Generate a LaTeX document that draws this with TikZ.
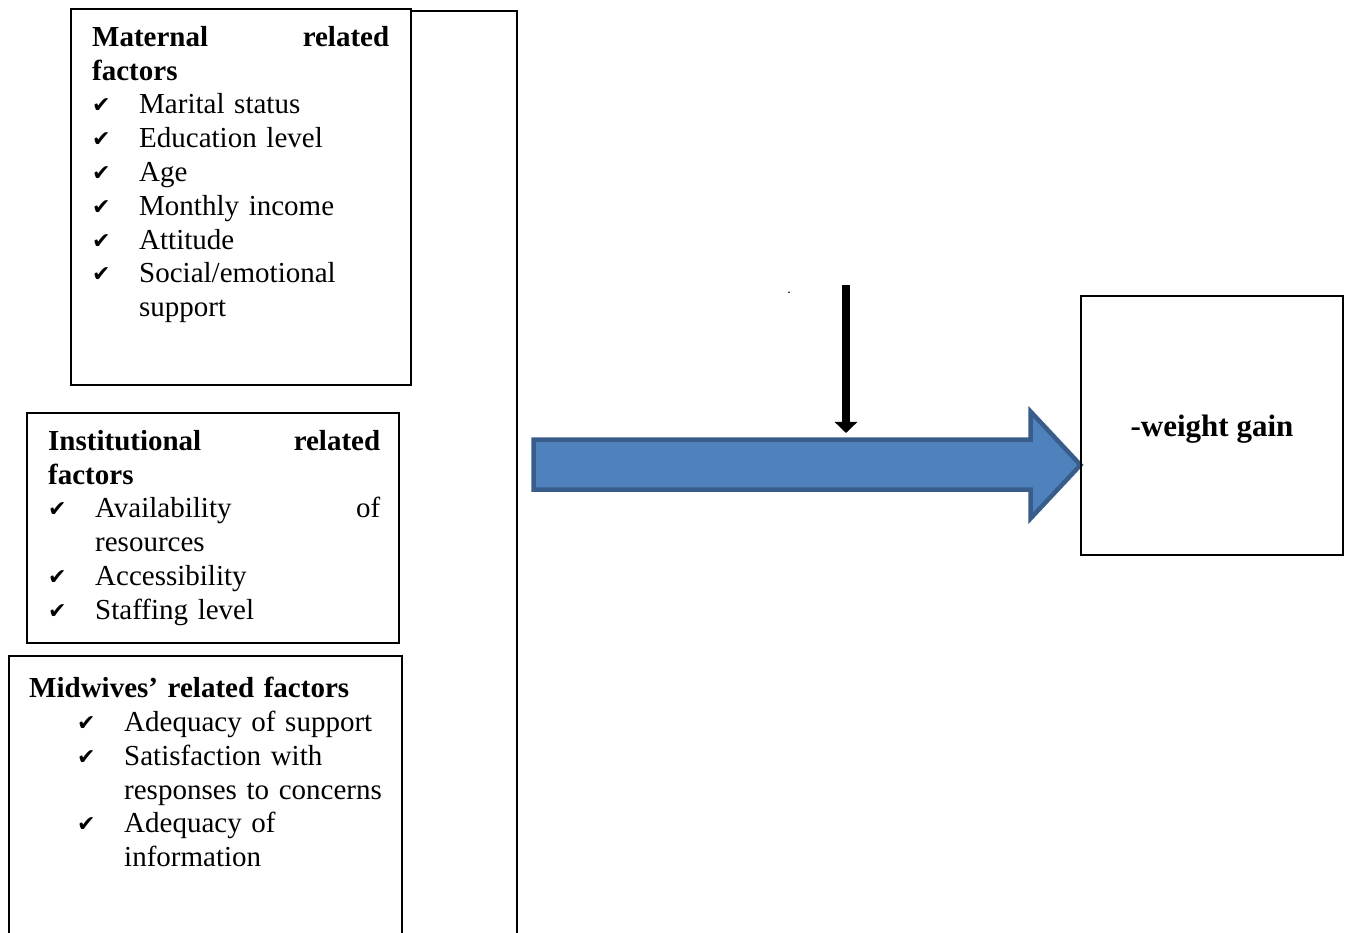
\documentclass[tikz,border=0pt]{standalone}
\usepackage{fontspec}
\setmainfont{Liberation Serif}
\newfontfamily\checkfont{DejaVu Sans}
\usetikzlibrary{arrows.meta,positioning}

\definecolor{flowfill}{HTML}{4F81BD}
\definecolor{flowedge}{HTML}{385D8A}

\newcommand{\chkitem}[1]{\makebox[47pt][l]{\checkfont\fontsize{22}{22}\selectfont\raisebox{1pt}{✔}}#1}
\newcommand{\chkcont}[1]{\hspace*{47pt}#1}

\tikzset{
  factorbox/.style={draw, line width=1.6pt, anchor=north west, inner sep=0pt},
  factortext/.style={anchor=north west, inner sep=0pt, align=left,
    font=\fontsize{29}{33.8}\selectfont},
  bracket/.style={line width=1.6pt},
  flowarrow/.style={fill=flowfill, draw=flowedge, line width=4.5pt},
  cuearrow/.style={line width=8pt, -{Triangle[width=22pt,length=11pt]}},
}

\begin{document}
\begin{tikzpicture}[x=1pt, y=-1pt]
\useasboundingbox (0,0) rectangle (1345,933);
\clip (0,0) rectangle (1345,933);

% factor boxes
\node[factorbox, minimum width=340pt, minimum height=376pt] (maternal) at (70,8) {};
\node[factorbox, minimum width=372pt, minimum height=230pt] (institution) at (26,412) {};
\node[factorbox, minimum width=393pt, minimum height=300pt] (midwives) at (8,655) {};

\node[factortext, text width=297pt, below right=18pt and 22pt of maternal.north west] (maternaltext)
  {\textbf{Maternal\hfill related}\\
   \textbf{factors}\\
   \chkitem{Marital status}\\
   \chkitem{Education level}\\
   \chkitem{Age}\\
   \chkitem{Monthly income}\\
   \chkitem{Attitude}\\
   \chkitem{Social/emotional}\\
   \chkcont{support}};

\node[factortext, text width=332pt, below right=18pt and 22pt of institution.north west] (institutiontext)
  {\textbf{Institutional\hfill related}\\
   \textbf{factors}\\
   \chkitem{Availability\hfill of}\\
   \chkcont{resources}\\
   \chkitem{Accessibility}\\
   \chkitem{Staffing level}};

\node[factortext, text width=370pt, below right=22pt and 21pt of midwives.north west] (midwivestext)
  {\textbf{Midwives’ related factors}\\
   \hspace*{48pt}\chkitem{Adequacy of support}\\
   \hspace*{48pt}\chkitem{Satisfaction with}\\
   \hspace*{48pt}\chkcont{responses to concerns}\\
   \hspace*{48pt}\chkitem{Adequacy of}\\
   \hspace*{48pt}\chkcont{information}};

% bracket joining the factors
\coordinate (bracestart) at (412,11);
\coordinate (bracecorner) at (517,11);
\coordinate (braceend) at (517,940);
\draw[bracket] (bracestart) -- (bracecorner) -- (braceend);

% big arrow
\draw[flowarrow, line join=miter] (533.5,439.5) -- (1030.5,439.5) -- (1030.5,411.5) -- (1080.5,465)
  -- (1030.5,518.5) -- (1030.5,489.5) -- (533.5,489.5) -- cycle;

% outcome
\node[factorbox, anchor=center, minimum width=262pt, minimum height=259pt,
  font=\fontsize{31}{31}\selectfont\bfseries] (gain) at (1212,425.5)
  {\raisebox{-4pt}[\height][\depth]{-weight gain}};

% small arrow and stray dot
\coordinate (cue) at (846,285);
\coordinate (cueend) at (846,433);
\draw[cuearrow] (cue) -- (cueend);
\node[inner sep=0pt, font=\fontsize{14}{14}\selectfont] (stray) at (789,293) {.};
\end{tikzpicture}
\end{document}
